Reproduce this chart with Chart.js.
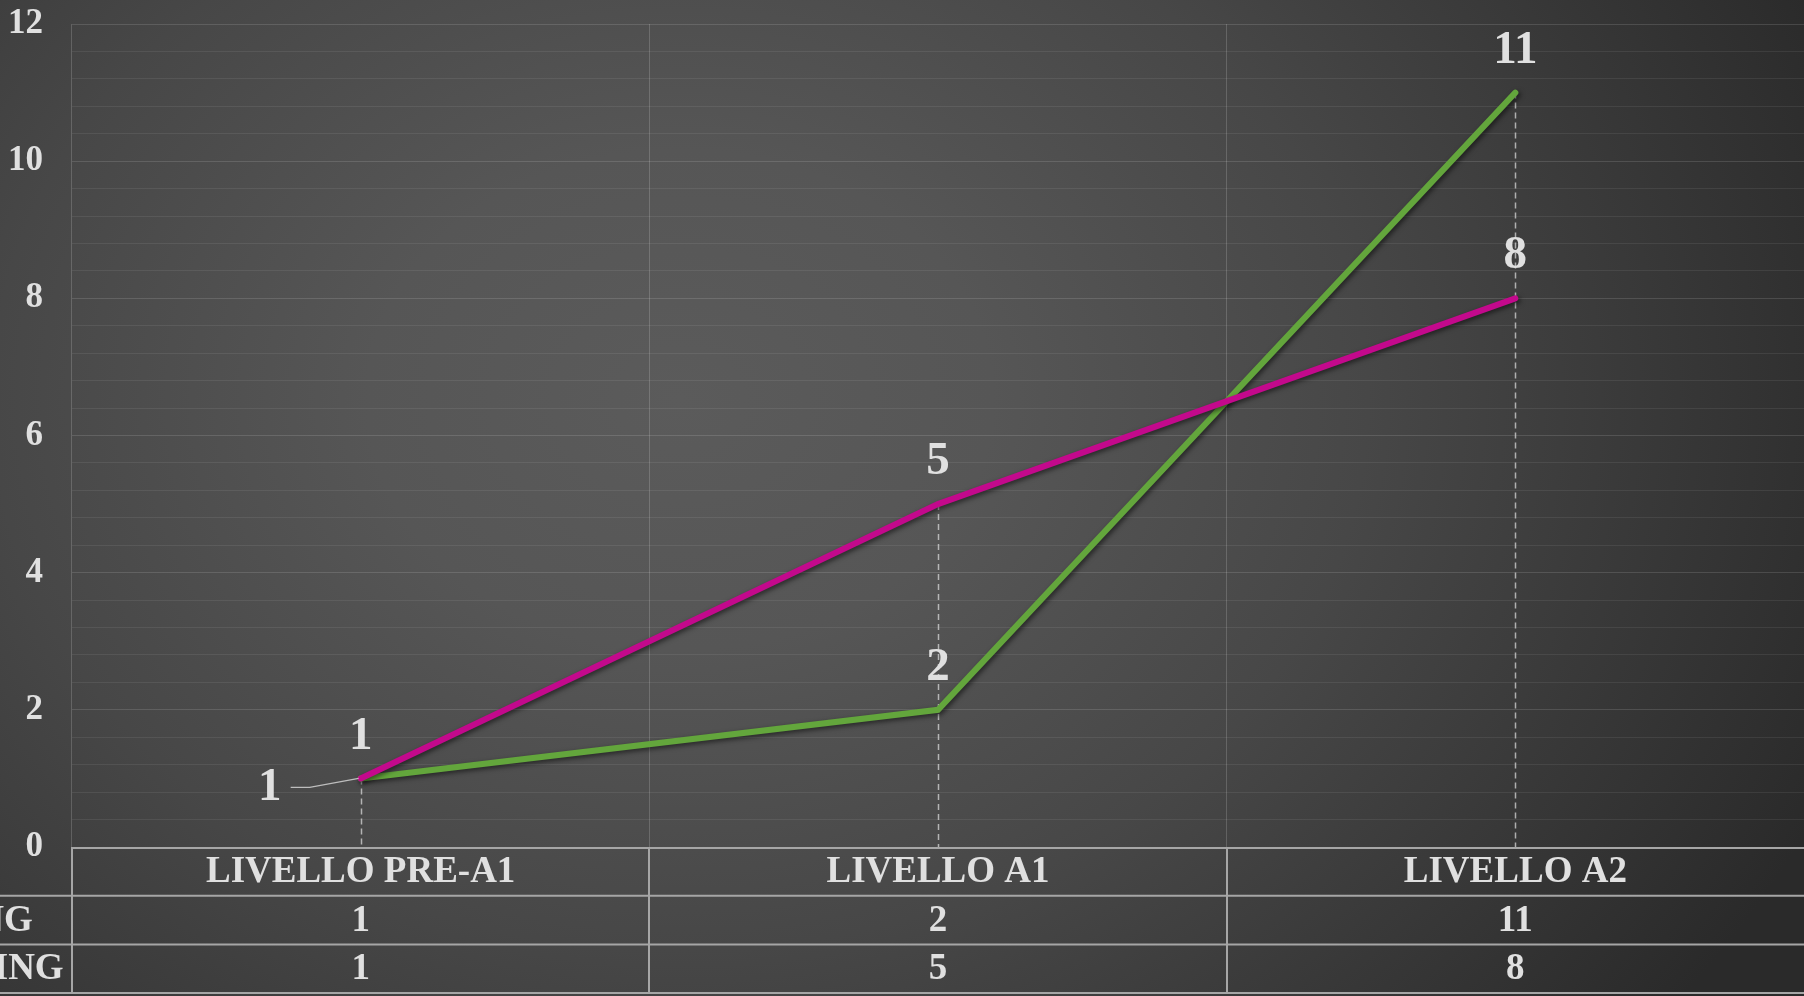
<!DOCTYPE html>
<html><head><meta charset="utf-8">
<script src="https://cdn.jsdelivr.net/npm/chart.js@4.4.0/dist/chart.umd.min.js"></script>
<style>
html,body{margin:0;padding:0;width:1804px;height:996px;overflow:hidden;}
body{background: radial-gradient(ellipse 1250px 1000px at 680px 400px, #5b5b5b 0%, #565656 25%, #474747 55%, #2a2a2a 100%);}
#wrap{position:relative;width:1804px;height:996px;}
canvas{display:block;}
</style></head><body>
<div id="wrap"><canvas id="c" width="1804" height="996"></canvas></div>
<script>
// ---- data ----
const categories = ['LIVELLO PRE-A1', 'LIVELLO A1', 'LIVELLO A2'];
const seriesNames = ['READING', 'LISTENING'];
const readingValues = [1, 2, 11];
const listeningValues = [1, 5, 8];
const yMajorTicks = [0, 2, 4, 6, 8, 10, 12];

// ---- styles ----
const GREEN = '#63a63c';
const MAGENTA = '#c3098c';
const TEXT = '#e0e0e0';
const SERIF = '"Liberation Serif", "Times New Roman", serif';
const labelPlacement = [['left', 'above', 'above'], ['above', 'above', 'above']];

const shadowPlugin = {
  id: 'shadow',
  beforeDatasetDraw(chart) {
    const ctx = chart.ctx;
    ctx.save();
    ctx.shadowColor = 'rgba(0,0,0,0.55)';
    ctx.shadowBlur = 5;
    ctx.shadowOffsetX = 2;
    ctx.shadowOffsetY = 2;
  },
  afterDatasetDraw(chart) { chart.ctx.restore(); }
};

const decoPlugin = {
  id: 'deco',
  beforeDatasetsDraw(chart) {
    const ctx = chart.ctx, area = chart.chartArea;
    ctx.save();
    ctx.strokeStyle = 'rgba(215,215,215,0.75)';
    ctx.lineWidth = 1.5;
    ctx.setLineDash([6, 4]);
    categories.forEach((c, i) => {
      let minY = Infinity, x = 0;
      chart.data.datasets.forEach((ds, d) => {
        const pt = chart.getDatasetMeta(d).data[i];
        if (pt.y < minY) { minY = pt.y; x = pt.x; }
      });
      ctx.beginPath();
      ctx.moveTo(Math.round(x) + 0.5, minY);
      ctx.lineTo(Math.round(x) + 0.5, area.bottom);
      ctx.stroke();
    });
    ctx.restore();
  },
  afterDatasetsDraw(chart) {
    const ctx = chart.ctx;
    ctx.save();
    ctx.fillStyle = TEXT;
    ctx.font = 'bold 47px ' + SERIF;
    ctx.textAlign = 'center';
    ctx.textBaseline = 'middle';
    chart.data.datasets.forEach((ds, d) => {
      const meta = chart.getDatasetMeta(d);
      ds.data.forEach((v, i) => {
        const pt = meta.data[i];
        const place = labelPlacement[d][i];
        if (place === 'left') {
          const lx = pt.x - 91, ly = pt.y + 9;
          ctx.save();
          ctx.strokeStyle = '#bdbdbd';
          ctx.lineWidth = 1.2;
          ctx.beginPath();
          ctx.moveTo(lx + 21, ly);
          ctx.lineTo(lx + 40, ly);
          ctx.lineTo(pt.x - 2, pt.y);
          ctx.stroke();
          ctx.restore();
          ctx.fillText(String(v), lx, ly);
        } else {
          ctx.fillText(String(v), pt.x, pt.y - 42);
        }
      });
    });
    ctx.restore();
  },
  afterDraw(chart) {
    const ctx = chart.ctx, area = chart.chartArea, xs = chart.scales.x;
    const W = chart.width;
    const top = area.bottom;
    const rowH = 48.7;
    ctx.save();
    ctx.strokeStyle = '#a6a6a6';
    ctx.lineWidth = 2;
    const hline = (x1, y, x2) => { ctx.beginPath(); ctx.moveTo(x1, y); ctx.lineTo(x2, y); ctx.stroke(); };
    const vline = (x, y1, y2) => { ctx.beginPath(); ctx.moveTo(x, y1); ctx.lineTo(x, y2); ctx.stroke(); };
    hline(area.left, top + 1, W);
    for (let r = 1; r <= 3; r++) hline(0, top + r * rowH, W);
    const bounds = [area.left];
    for (let i = 1; i < categories.length; i++) bounds.push((xs.getPixelForValue(i - 1) + xs.getPixelForValue(i)) / 2);
    bounds.forEach(b => vline(Math.round(b), top, top + 3 * rowH));

    ctx.fillStyle = TEXT;
    ctx.font = 'bold 37px ' + SERIF;
    ctx.textBaseline = 'middle';
    ctx.textAlign = 'center';
    categories.forEach((c, i) => ctx.fillText(c, xs.getPixelForValue(i), top + rowH / 2 + 1));
    chart.data.datasets.forEach((ds, d) => {
      ds.data.forEach((v, i) => ctx.fillText(String(v), xs.getPixelForValue(i), top + rowH * (d + 1.5) + 1));
    });
    ctx.textAlign = 'left';
    seriesNames.forEach((n, d) => ctx.fillText(n, area.left - 214, top + rowH * (d + 1.5) + 1));
    ctx.restore();
  }
};

const isMajor = v => Math.abs(v / 2 - Math.round(v / 2)) < 1e-6 && yMajorTicks.includes(Math.round(v));

new Chart(document.getElementById('c'), {
  type: 'line',
  data: {
    labels: categories,
    datasets: [
      { label: seriesNames[0], data: readingValues, borderColor: GREEN, backgroundColor: GREEN, borderWidth: 6, pointRadius: 0, tension: 0, order: 1, borderCapStyle: 'round' },
      { label: seriesNames[1], data: listeningValues, borderColor: MAGENTA, backgroundColor: MAGENTA, borderWidth: 6, pointRadius: 0, tension: 0, order: 0, borderCapStyle: 'round' }
    ]
  },
  options: {
    responsive: false,
    animation: false,
    layout: { padding: { top: 24, left: 0, right: 0, bottom: 0 } },
    plugins: { legend: { display: false }, tooltip: { enabled: false } },
    scales: {
      x: {
        offset: true,
        grid: { offset: true, color: 'rgba(255,255,255,0.17)', lineWidth: 1, drawTicks: false },
        border: { display: false },
        ticks: { display: false },
        afterFit(s) { s.height = 149; s.paddingLeft = 0; s.paddingRight = 0; }
      },
      y: {
        min: 0, max: 12,
        ticks: {
          stepSize: 0.4, autoSkip: false, padding: 29, color: TEXT,
          font: { family: SERIF, weight: 'bold', size: 35 },
          callback: v => isMajor(v) ? String(Math.round(v)) : ''
        },
        grid: {
          drawTicks: false,
          color: c => isMajor(c.tick.value) ? 'rgba(255,255,255,0.13)' : 'rgba(255,255,255,0.075)',
          lineWidth: 1
        },
        border: { display: false },
        afterFit(s) { s.width = 72; s.paddingTop = 0; s.paddingBottom = 0; }
      }
    }
  },
  plugins: [shadowPlugin, decoPlugin]
});
</script>
</body></html>
